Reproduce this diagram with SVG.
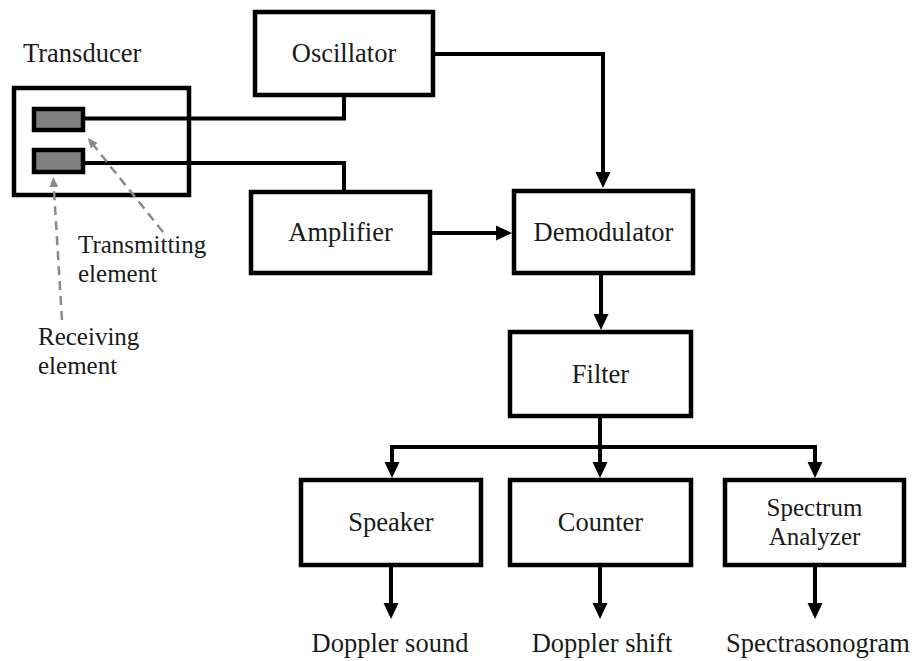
<svg xmlns="http://www.w3.org/2000/svg" width="914" height="661" viewBox="0 0 914 661">
<style>
.box{fill:#fff;stroke:#000;stroke-width:4.5}
.elem{fill:#808080;stroke:#000;stroke-width:4.5}
.t{font-family:'Liberation Serif','Times New Roman',Tinos,'DejaVu Serif',serif;font-size:26.5px;fill:#1a1a1a}
.s{font-size:25px}
.c{text-anchor:middle}
.ln{fill:none;stroke:#000;stroke-width:4}
.dash{fill:none;stroke:#8a8a8a;stroke-width:2.5;stroke-dasharray:9,6}
</style>
<defs>
<marker id="ah" markerUnits="userSpaceOnUse" markerWidth="16" markerHeight="16" viewBox="0 0 16 16" refX="8" refY="8" orient="auto">
<path d="M0,0.5 L16,8 L0,15.5 z" fill="#000"/>
</marker>
<marker id="gh" markerUnits="userSpaceOnUse" markerWidth="10" markerHeight="10" viewBox="0 0 10 10" refX="5" refY="5" orient="auto">
<path d="M0,0.5 L10,5 L0,9.5 z" fill="#8a8a8a"/>
</marker>
</defs>
<rect width="914" height="661" fill="#fff"/>
<g id="transducer">
<rect class="box" x="14" y="88" width="175" height="107"/>
<rect class="elem" x="34" y="109" width="49" height="21"/>
<rect class="elem" x="34" y="150" width="49" height="22"/>
<text class="t" x="23" y="62">Transducer</text>
</g>
<g id="transmitting-label">
<text class="t s" x="78" y="253">Transmitting</text>
<text class="t s" x="78" y="282">element</text>
</g>
<g id="receiving-label">
<text class="t s" x="38" y="345">Receiving</text>
<text class="t s" x="38" y="374">element</text>
</g>
<g id="oscillator">
<rect class="box" x="255" y="12" width="178" height="83"/>
<text class="t c" x="344" y="62">Oscillator</text>
</g>
<g id="amplifier">
<rect class="box" x="251" y="192" width="179" height="81"/>
<text class="t c" x="340.5" y="241">Amplifier</text>
</g>
<g id="demodulator">
<rect class="box" x="514" y="191" width="179" height="82"/>
<text class="t c" x="603.5" y="241">Demodulator</text>
</g>
<g id="filter">
<rect class="box" x="510" y="332" width="181" height="84"/>
<text class="t c" x="600.5" y="383">Filter</text>
</g>
<g id="speaker">
<rect class="box" x="301" y="480" width="180" height="85"/>
<text class="t c" x="391" y="531">Speaker</text>
</g>
<g id="counter">
<rect class="box" x="510" y="480" width="181" height="85"/>
<text class="t c" x="600.5" y="531">Counter</text>
</g>
<g id="spectrum-analyzer">
<rect class="box" x="725" y="480" width="179" height="85"/>
<text class="t s c" x="814.5" y="516">Spectrum</text>
<text class="t s c" x="814.5" y="545">Analyzer</text>
</g>
<g id="outputs">
<text class="t c" x="390" y="652">Doppler sound</text>
<text class="t c" x="602" y="652">Doppler shift</text>
<text class="t c" x="818" y="652">Spectrasonogram</text>
</g>
<g id="connectors">
<polyline class="ln" points="83,118.5 344,118.5 344,97"/>
<polyline class="ln" points="83,163 344,163 344,190"/>
<polyline class="ln" points="435,54 603,54 603,180" marker-end="url(#ah)"/>
<line class="ln" x1="432" y1="233" x2="504" y2="233" marker-end="url(#ah)"/>
<line class="ln" x1="601" y1="275" x2="601" y2="322" marker-end="url(#ah)"/>
<line class="ln" x1="600" y1="418" x2="600" y2="470" marker-end="url(#ah)"/>
<polyline class="ln" points="392,470 392,447 815,447 815,470" marker-end="url(#ah)"/>
<line class="ln" x1="392" y1="469" x2="392" y2="470" marker-end="url(#ah)"/>
<line class="ln" x1="391" y1="567" x2="391" y2="611" marker-end="url(#ah)"/>
<line class="ln" x1="600" y1="567" x2="600" y2="611" marker-end="url(#ah)"/>
<line class="ln" x1="815" y1="567" x2="815" y2="611" marker-end="url(#ah)"/>
<line class="dash" x1="163" y1="232" x2="91" y2="142" marker-end="url(#gh)"/>
<line class="dash" x1="62" y1="320" x2="53.5" y2="182" marker-end="url(#gh)"/>
</g>
</svg>
